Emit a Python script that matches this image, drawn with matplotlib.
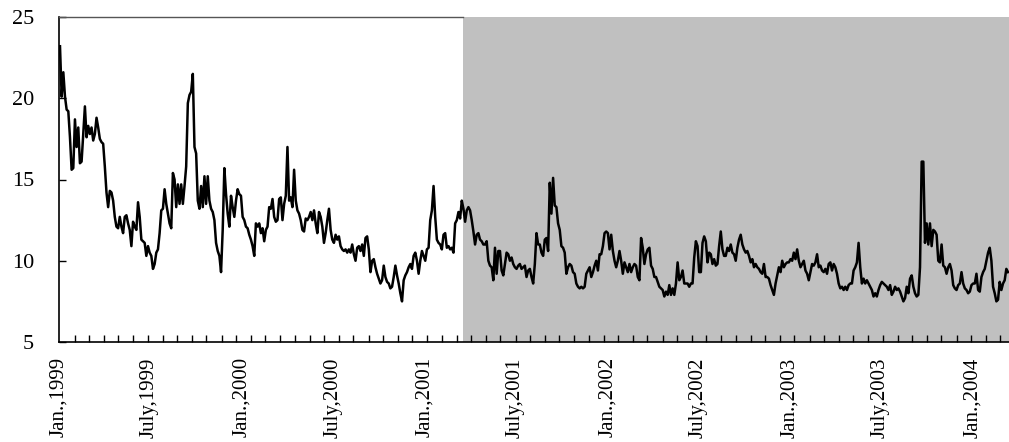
import matplotlib
matplotlib.use("Agg")
import pandas as pd
import matplotlib.dates as mdates
from matplotlib import pyplot as plt

plt.rcParams["font.family"] = ["Liberation Serif", "DejaVu Serif"]

# sampled index level, evenly spaced between first_day and last_day
first_day = "1999-01-03"
last_day = "2004-03-12"
level = [
    # early 1999 -> July 1999
    23.2, 20.1, 21.6, 20.1, 19.3, 19.2, 17.6, 15.6, 15.7, 18.7, 17.0, 18.2, 16.0, 16.1, 17.8, 19.5,
    17.6, 18.3, 17.8, 18.2, 17.4, 17.8, 18.8, 18.2, 17.5, 17.3, 17.2, 15.8, 14.2, 13.3, 14.3, 14.2,
    13.7, 12.7, 12.1, 12.0, 12.7, 12.1, 11.7, 12.7, 12.8, 12.3, 11.9, 10.9, 12.4, 12.1, 11.9, 13.6,
    12.7, 11.3, 11.2, 11.1, 10.3, 10.9, 10.5, 10.3, 9.5, 9.8, 10.5, 10.7, 11.7, 13.1, 13.2, 14.4,
    # July 1999 -> early 2000
    13.5, 12.9, 12.3, 12.0, 15.4, 15.0, 13.3, 14.7, 13.5, 14.7, 13.5, 14.6, 15.8, 19.7, 20.2, 20.4,
    21.5, 17.0, 16.6, 13.7, 13.2, 14.6, 13.3, 15.2, 13.5, 15.2, 13.7, 13.2, 13.0, 12.5, 11.1, 10.6,
    10.3, 9.3, 11.9, 15.7, 14.1, 12.9, 12.1, 14.0, 13.3, 12.7, 13.7, 14.4, 14.1, 14.0, 12.7, 12.5,
    12.1, 12.0, 11.6, 11.3, 10.9, 10.3, 12.3, 12.1, 12.3, 11.7, 12.0, 11.2, 11.9, 12.1, 13.3,
    # 2000
    13.2, 13.8, 12.7, 12.4, 12.5, 13.8, 13.9, 12.5, 13.5, 14.0, 17.0, 13.7, 13.9, 13.3, 15.6, 13.7,
    13.1, 12.9, 12.5, 11.9, 11.8, 12.6, 12.5, 12.7, 13.0, 12.5, 13.1, 12.3, 11.7, 13.0, 12.7, 12.1,
    11.1, 11.7, 12.5, 13.2, 11.9, 11.3, 11.1, 11.6, 11.3, 11.5, 10.9, 10.7, 10.6, 10.7, 10.5, 10.7,
    10.5, 11.0, 10.4, 10.0, 10.8, 10.9, 10.6, 11.0, 10.3, 11.4, 11.5, 10.7, 9.3, 10.0, 10.1,
    # late 2000 -> spring 2001
    9.6, 9.2, 8.9, 8.6, 8.8, 9.7, 9.0, 8.7, 8.6, 8.3, 8.4, 9.0, 9.7, 9.1, 8.6, 8.0,
    7.5, 8.8, 9.1, 9.3, 9.6, 9.8, 9.5, 10.3, 10.5, 10.0, 9.2, 10.0, 10.6, 10.3, 10.0, 10.7,
    10.8, 12.5, 13.1, 14.6, 12.7, 11.3, 11.1, 11.0, 10.7, 11.6, 11.7, 10.8, 10.9, 10.7, 10.8, 10.5,
    12.3, 12.5, 13.0, 12.6, 13.7, 13.2, 12.4, 13.1, 13.3, 13.1, 12.5, 11.8, 11.0, 11.6, 11.7,
    # 2001
    11.3, 11.2, 11.0, 11.0, 11.2, 10.0, 9.7, 9.6, 8.8, 10.8, 9.2, 10.6, 10.6, 9.4, 9.1, 9.8,
    10.5, 10.4, 10.0, 10.2, 9.8, 9.6, 9.5, 9.7, 9.8, 9.5, 9.6, 9.7, 9.0, 9.4, 9.5, 9.0,
    8.6, 9.8, 11.7, 11.0, 11.0, 10.5, 10.3, 11.3, 11.4, 10.6, 14.8, 12.9, 15.1, 13.4, 13.3, 12.3,
    11.9, 10.9, 10.8, 10.5, 9.2, 9.6, 9.8, 9.7, 9.3, 9.2, 8.6, 8.4, 8.3, 8.4, 8.3, 8.4,
    # early 2002
    9.2, 9.4, 9.6, 9.0, 9.3, 9.7, 10.0, 9.4, 10.4, 10.4, 10.9, 11.7, 11.8, 11.7, 10.7, 11.6,
    10.6, 10.0, 9.6, 10.0, 10.6, 10.0, 9.2, 9.9, 9.6, 9.3, 9.8, 9.3, 9.6, 9.8, 9.7, 9.0,
    8.8, 11.4, 10.8, 9.8, 10.4, 10.7, 10.8, 9.7, 9.5, 9.0, 9.0, 8.7, 8.4, 8.3, 8.2, 7.8,
    8.1, 7.9, 8.5, 7.9, 8.3, 7.9, 8.6, 9.9, 8.8, 9.0, 9.4, 8.6, 8.6, 8.6, 8.4,
    # mid 2002 -> early 2003
    8.6, 8.6, 10.2, 11.2, 10.9, 9.3, 9.3, 11.1, 11.5, 11.2, 9.9, 10.5, 10.4, 9.8, 10.1, 9.7,
    9.8, 10.9, 11.8, 10.7, 10.3, 10.3, 10.8, 10.6, 11.0, 10.5, 10.4, 10.0, 10.8, 11.3, 11.6, 11.0,
    10.7, 10.5, 10.6, 10.3, 9.9, 10.1, 9.6, 9.8, 9.6, 9.5, 9.3, 9.2, 9.8, 9.0, 9.0, 8.9,
    8.5, 8.2, 7.9, 8.6, 9.1, 9.6, 9.3, 10.0, 9.6, 9.8, 9.9, 9.9, 10.1, 10.0, 10.5,
    # 2003
    10.1, 10.7, 10.0, 9.6, 9.8, 10.0, 9.4, 9.2, 8.8, 9.3, 9.8, 9.7, 9.9, 10.4, 9.6, 9.7,
    9.4, 9.3, 9.5, 9.2, 9.8, 9.9, 9.4, 9.8, 9.6, 9.2, 8.6, 8.3, 8.4, 8.2, 8.4, 8.2,
    8.5, 8.6, 8.6, 9.4, 9.6, 9.9, 11.1, 9.6, 8.6, 8.9, 8.6, 8.8, 8.6, 8.4, 8.2, 7.8,
    8.0, 7.8, 8.2, 8.5, 8.7, 8.6, 8.5, 8.4, 8.2, 8.5, 7.9, 8.1, 8.4, 8.2, 8.3,
    # late 2003 -> March 2004
    8.1, 7.8, 7.5, 7.7, 8.4, 8.0, 8.9, 9.1, 8.4, 8.0, 7.8, 7.9, 9.6, 16.1, 16.1, 11.1,
    12.3, 11.0, 12.3, 10.9, 11.9, 11.8, 11.6, 10.0, 9.9, 11.0, 9.7, 9.6, 9.2, 9.6, 9.8, 9.4,
    8.5, 8.3, 8.2, 8.5, 8.6, 9.3, 8.6, 8.3, 8.2, 8.0, 8.1, 8.5, 8.6, 8.6, 9.2, 8.2,
    8.1, 9.0, 9.3, 9.5, 10.0, 10.5, 10.8, 10.0, 8.4, 8.0, 7.5, 7.6, 8.7, 8.2, 8.6, 8.8,
    9.5, 9.3,
]

axis_start = "1999-01-01"
axis_end = "2004-03-14"
shade_from = "2001-03-18"
label_dates = pd.date_range("1999-01-01", "2004-01-01", freq="6MS")
tick_labels = [
    "Jan.,1999", "July,1999", "Jan.,2000", "July,2000", "Jan.,2001", "July,2001",
    "Jan.,2002", "July,2002", "Jan.,2003", "July,2003", "Jan.,2004",
]
y_ticks = [5, 10, 15, 20, 25]

fig = plt.figure(figsize=(10.09, 4.42), dpi=100)
ax = fig.add_axes([59 / 1009, 1 - 342 / 442, 950 / 1009, 325 / 442])

dates = pd.date_range(first_day, last_day, periods=len(level))
x0 = mdates.date2num(pd.Timestamp(axis_start))
x1 = mdates.date2num(pd.Timestamp(axis_end))
xs = mdates.date2num(pd.Timestamp(shade_from))

ax.axvspan(xs, x1 + 30, color="#c0c0c0", lw=0, zorder=0)
ax.plot(mdates.date2num(dates), level, color="black", lw=1.8, zorder=3)

ax.set_xlim(x0, x1)
ax.set_ylim(5, 25)

ax.set_xticks(mdates.date2num(label_dates))
ax.set_xticklabels(tick_labels, rotation=90, fontsize=15)
ax.set_xticks(mdates.date2num(pd.bdate_range(axis_start, axis_end)[::21]), minor=True)
ax.tick_params(axis="x", which="major", length=0, pad=11)
ax.tick_params(axis="x", which="minor", direction="in", length=5, width=1, color="black")

ax.set_yticks(y_ticks)
ax.set_yticklabels([str(v) for v in y_ticks], fontsize=16)
ax.tick_params(axis="y", direction="in", length=5, width=1, pad=18)

for side in ["left", "bottom"]:
    ax.spines[side].set_linewidth(1.2)
    ax.spines[side].set_color("black")
ax.spines["right"].set_visible(False)
ax.spines["top"].set_color("#555555")
ax.spines["top"].set_linewidth(1.0)
ax.spines["top"].set_bounds(x0, xs)

fig.savefig("out.png", dpi=100)
